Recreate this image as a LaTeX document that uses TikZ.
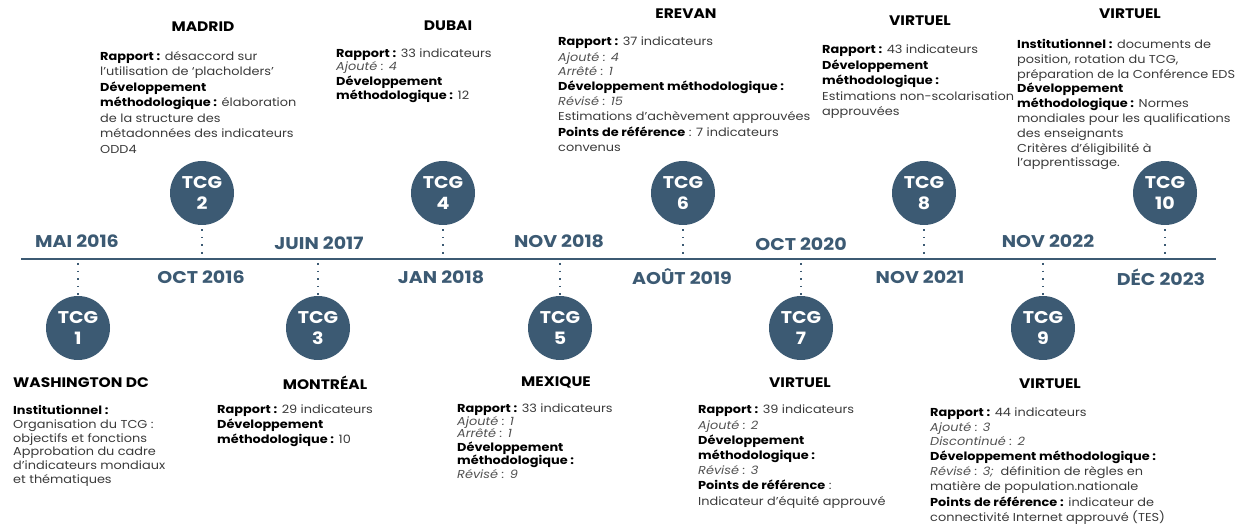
\documentclass[tikz,border=0pt]{standalone}
\usepackage{fontspec}
\setmainfont{Poppins}[FakeStretch=1.12]
\definecolor{slate}{HTML}{3C5A73}
\definecolor{bodygray}{HTML}{3A3A3A}
\definecolor{itgray}{HTML}{505050}
\newcommand{\bb}[1]{\textbf{\color{black}#1}}
\newcommand{\ii}[1]{\textit{\color{itgray}#1}}
\begin{document}
\begin{tikzpicture}[x=1pt,y=-1pt,
  axis/.style={draw=slate, line width=2pt},
  dots/.style={draw=slate, line width=1.6pt, dash pattern=on 1.6pt off 6pt},
  tcg/.style={circle, fill=slate, minimum size=64pt, inner sep=0pt, text=white, align=center,
    font=\bfseries\fontsize{17}{21.5}\selectfont},
  date/.style={text=slate, inner sep=0pt, font=\bfseries\fontsize{17}{17}\selectfont},
  city/.style={text=black, inner sep=0pt, font=\bfseries\fontsize{13.8}{14}\selectfont},
  body/.style={anchor=north west, align=left, inner sep=0pt, text=bodygray,
    font=\fontsize{11.5}{15.5}\selectfont},
]
\useasboundingbox (0,0) rectangle (1248,529);

% axis
\coordinate (L) at (21,259);
\coordinate (R) at (1216,259);
\draw[axis] (L) -- (R);

% axis points
\foreach \n/\x in {1/78,2/202,3/318,4/443,5/560,6/683,7/801,8/924,9/1043,10/1165}{
  \coordinate (a\n) at (\x,259);
}

% circles
\node[tcg] (t1) at (78,328) {TCG\\1};
\node[tcg] (t2) at (202,193) {TCG\\2};
\node[tcg] (t3) at (318,328) {TCG\\3};
\node[tcg] (t4) at (443,193) {TCG\\4};
\node[tcg] (t5) at (560,328) {TCG\\5};
\node[tcg] (t6) at (683,193) {TCG\\6};
\node[tcg] (t7) at (801,328) {TCG\\7};
\node[tcg] (t8) at (924,193) {TCG\\8};
\node[tcg] (t9) at (1043,328) {TCG\\9};
\node[tcg] (t10) at (1165,193) {TCG\\10};

% dotted connectors
\foreach \n in {1,3,5,7,9}{ \draw[dots] (a\n) ++(0,4) -- (t\n.north); }
\foreach \n in {2,4,6,8,10}{ \draw[dots] (t\n.south) ++(0,4) -- (a\n); }

% dates
\node[date] (d1) at (77,241) {MAI 2016};
\node[date] (d2) at (201,277) {OCT 2016};
\node[date] (d3) at (319,243) {JUIN 2017};
\node[date] (d4) at (441,277) {JAN 2018};
\node[date] (d5) at (559,241) {NOV 2018};
\node[date] (d6) at (682,277) {AOÛT 2019};
\node[date] (d7) at (801,244) {OCT 2020};
\node[date] (d8) at (920,277) {NOV 2021};
\node[date] (d9) at (1048,241) {NOV 2022};
\node[date] (d10) at (1161,277) {DÉC 2023};

% city names
\node[city, anchor=west] (c1) at (13,383) {WASHINGTON DC};
\node[city] (c2) at (203,27) {MADRID};
\node[city] (c3) at (325,383) {MONTRÉAL};
\node[city] (c4) at (448,26) {DUBAI};
\node[city] (c5) at (556,382) {MEXIQUE};
\node[city] (c6) at (686,14) {EREVAN};
\node[city] (c7) at (800,383) {VIRTUEL};
\node[city] (c8) at (920,21) {VIRTUEL};
\node[city] (c9) at (1050,384) {VIRTUEL};
\node[city] (c10) at (1130,14) {VIRTUEL};

% bodies (top)
\node[body] (b2) at (100,51) {\bb{Rapport :} désaccord sur\\
l'utilisation de ‘placholders’\\
\bb{Développement}\\
\bb{méthodologique :} élaboration\\
de la structure des\\
métadonnées des indicateurs\\
ODD4};

\node[body, font=\fontsize{11.5}{14.5}\selectfont] (b4) at (336,49) {\bb{Rapport :} 33 indicateurs\\[-1.5pt]
\ii{Ajouté : 4}\\
\bb{Développement}\\
\bb{méthodologique :} 12};

\node[body, font=\fontsize{11.5}{15.2}\selectfont] (b6) at (558,37) {\bb{Rapport :} 37 indicateurs\\
\ii{Ajouté : 4}\\[-1pt]
\ii{Arrêté : 1}\\
\bb{Développement méthodologique :}\\
\ii{Révisé : 15}\\
Estimations d’achèvement approuvées\\
\bb{Points de référence} : 7 indicateurs\\
convenus};

\node[body] (b8) at (822,45) {\bb{Rapport :} 43 indicateurs\\
\bb{Développement}\\
\bb{méthodologique :}\\
Estimations non-scolarisation\\
approuvées};

\node[body, font=\fontsize{11.5}{14.8}\selectfont] (b10) at (1017,39) {\bb{Institutionnel :} documents de\\
position, rotation du TCG,\\
préparation de la Conférence EDS\\
\bb{Développement}\\
\bb{méthodologique :} Normes\\
mondiales pour les qualifications\\
des enseignants\\
Critères d'éligibilité à\\
l’apprentissage.};

% bodies (bottom)
\node[body, font=\fontsize{11.5}{13.8}\selectfont] (b1) at (13,405) {\bb{Institutionnel :}\\
Organisation du TCG :\\
objectifs et fonctions\\
Approbation du cadre\\
d'indicateurs mondiaux\\
et thématiques};

\node[body, font=\fontsize{11.5}{15}\selectfont] (b3) at (217,405) {\bb{Rapport :} 29 indicateurs\\
\bb{Développement}\\
\bb{méthodologique :} 10};

\node[body, font=\fontsize{11.5}{13.5}\selectfont] (b5) at (457,404) {\bb{Rapport :} 33 indicateurs\\[-1pt]
\ii{Ajouté : 1}\\[-1pt]
\ii{Arrêté : 1}\\
\bb{Développement}\\
\bb{méthodologique :}\\
\ii{Révisé : 9}};

\node[body, font=\fontsize{11.5}{15.2}\selectfont] (b7) at (698,405) {\bb{Rapport :} 39 indicateurs\\
\ii{Ajouté : 2}\\
\bb{Développement}\\
\bb{méthodologique :}\\
\ii{Révisé : 3}\\
\bb{Points de référence} :\\
Indicateur d'équité approuvé};

\node[body, font=\fontsize{11.5}{15.2}\selectfont] (b9) at (930,408) {\bb{Rapport :} 44 indicateurs\\[-1pt]
\ii{Ajouté : 3}\\[-1pt]
\ii{Discontinué : 2}\\
\bb{Développement méthodologique :}\\
\ii{Révisé : 3;}\ \ définition de règles en\\
matière de population.nationale\\
\bb{Points de référence :} indicateur de\\
connectivité Internet approuvé (TES)};
\end{tikzpicture}
\end{document}
